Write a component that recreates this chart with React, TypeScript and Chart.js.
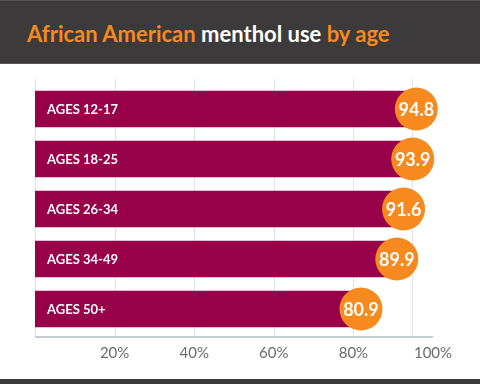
import React, { useEffect, useRef } from "react";
import { Chart, registerables } from "chart.js";

Chart.register(...registerables);

const categories = ["AGES 12-17", "AGES 18-25", "AGES 26-34", "AGES 34-49", "AGES 50+"];
const values = [94.8, 93.9, 91.6, 89.9, 80.9];
const gridValues = [0, 20, 40, 60, 80];

const BAR = "#98004a";
const ORANGE = "#f68a1f";
const FONT = "Lato, 'Open Sans', sans-serif";

const overlayPlugin = {
  id: "overlay",
  beforeDatasetsDraw(chart: any) {
    const { ctx, chartArea, scales } = chart;
    const x = scales.x;
    ctx.save();
    ctx.strokeStyle = "#dfe6ea";
    ctx.lineWidth = 1;
    const lines = [...gridValues, Math.max(...values)];
    lines.forEach((v) => {
      const px = Math.round(x.getPixelForValue(v)) + 0.5;
      ctx.beginPath();
      ctx.moveTo(px, chartArea.top - 5);
      ctx.lineTo(px, chartArea.bottom + 3);
      ctx.stroke();
    });
    ctx.strokeStyle = "#c4cfd5";
    ctx.lineWidth = 2;
    ctx.beginPath();
    ctx.moveTo(x.getPixelForValue(0), chartArea.bottom + 3);
    ctx.lineTo(x.getPixelForValue(100), chartArea.bottom + 3);
    ctx.stroke();
    ctx.restore();
  },
  afterDatasetsDraw(chart: any) {
    const { ctx, chartArea } = chart;
    const meta = chart.getDatasetMeta(0);
    ctx.save();
    meta.data.forEach((bar: any, i: number) => {
      ctx.fillStyle = "#ffffff";
      ctx.font = `bold 13px ${FONT}`;
      ctx.textAlign = "left";
      ctx.textBaseline = "middle";
      ctx.fillText(categories[i], chartArea.left + 12, bar.y + 0.5);

      const cx = bar.x + 4;
      ctx.fillStyle = ORANGE;
      ctx.beginPath();
      ctx.arc(cx, bar.y, 21.5, 0, Math.PI * 2);
      ctx.fill();
      ctx.fillStyle = "#ffffff";
      ctx.font = `bold 18px ${FONT}`;
      ctx.textAlign = "center";
      ctx.fillText(values[i].toFixed(1), cx, bar.y + 1);
    });
    ctx.restore();
  },
};

export default function App() {
  const ref = useRef<HTMLCanvasElement>(null);
  useEffect(() => {
    const chart = new Chart(ref.current!, {
      type: "bar",
      data: {
        labels: categories,
        datasets: [
          {
            data: values,
            backgroundColor: BAR,
            borderWidth: 0,
            barThickness: 36,
          },
        ],
      },
      options: {
        indexAxis: "y",
        animation: false,
        responsive: false,
        layout: { padding: { left: 35, right: 47, top: 84, bottom: 20 } },
        plugins: { legend: { display: false }, tooltip: { enabled: false }, title: { display: false } },
        scales: {
          x: {
            min: 0,
            max: 100,
            grid: { display: false, drawTicks: false },
            border: { display: false },
            afterFit: (s: any) => {
              s.height = 30;
            },
            ticks: {
              stepSize: 20,
              padding: 10,
              color: "#6b6b6b",
              font: { family: FONT, size: 15 },
              callback: (v: any) => (v === 0 ? "" : v + "%"),
            },
          },
          y: { display: false },
        },
      },
      plugins: [overlayPlugin],
    } as any);
    return () => chart.destroy();
  }, []);

  return (
    <div style={{ position: "fixed", left: 0, top: 0, width: 480, height: 384, background: "#fff", overflow: "hidden" }}>
      <canvas ref={ref} width={480} height={384} style={{ position: "absolute", left: 0, top: 0 }} />
      <div
        style={{
          position: "absolute",
          left: 0,
          top: 0,
          width: 480,
          height: 62,
          background: "#3c3a3b",
          borderTop: "1px solid #555354",
          borderBottom: "1px solid #5a5859",
          fontFamily: FONT,
          fontWeight: 700,
          fontSize: 22,
          lineHeight: "66px",
          paddingLeft: 27,
          boxSizing: "content-box",
          whiteSpace: "nowrap",
        }}
      >
        <span style={{ color: ORANGE }}>African American</span>
        <span style={{ color: "#ffffff" }}> menthol use </span>
        <span style={{ color: ORANGE }}>by age</span>
      </div>
      <div style={{ position: "absolute", left: 0, top: 379, width: 480, height: 5, background: "#3c3a3b" }} />
    </div>
  );
}
